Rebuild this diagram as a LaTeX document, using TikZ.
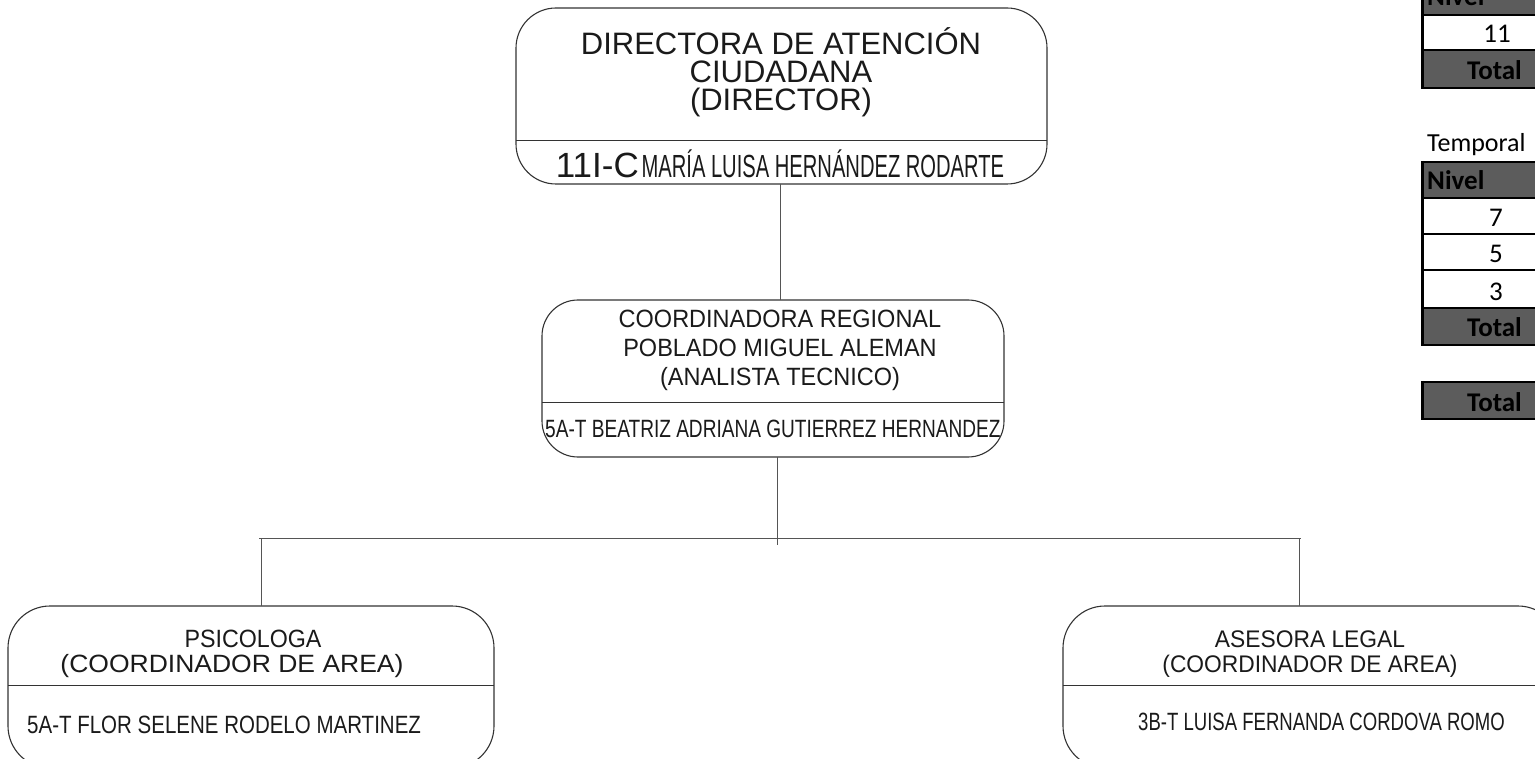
\documentclass[tikz,border=0pt]{standalone}
\usepackage{fontspec}
\usepackage{graphicx}
\setmainfont{Liberation Sans}
\newfontfamily\tabfont{Carlito}
\definecolor{hdrgray}{HTML}{5C5C5C}
\definecolor{inkc}{HTML}{1A1A1A}
\definecolor{linec}{HTML}{333333}
\definecolor{connc}{HTML}{555555}
\tikzset{
  orgbox/.style={draw=linec, line width=1.1pt, inner sep=0pt, outer sep=0pt},
  divl/.style={draw=linec, line width=1pt},
  conn/.style={draw=connc, line width=1pt},
  lbl/.style={inner sep=0pt, anchor=base, text=inkc},
  lblw/.style={inner sep=0pt, anchor=base west, text=inkc},
  tnum/.style={inner sep=0pt, anchor=base, text=black, font=\tabfont\fontsize{27}{27}\selectfont},
  tleft/.style={inner sep=0pt, anchor=base west, text=black, font=\tabfont\bfseries\fontsize{27}{27}\selectfont},
  tright/.style={inner sep=0pt, anchor=base east, text=black, font=\tabfont\bfseries\fontsize{27}{27}\selectfont},
  hrule/.style={draw=black, line width=2.5pt},
  vrule/.style={draw=black, line width=3pt},
}
\begin{document}
\begin{tikzpicture}[x=1pt,y=-1pt]
\useasboundingbox (0,0) rectangle (1535,759);
\clip (0,0) rectangle (1535,759);

% ---- boxes ----
\node[orgbox, rounded corners=40pt, minimum width=531pt, minimum height=176pt] (dir) at (781.5,96) {};
\node[orgbox, rounded corners=36pt, minimum width=462pt, minimum height=157pt] (mid) at (773,378.5) {};
\node[orgbox, rounded corners=42pt, minimum width=486pt, minimum height=162pt] (psi) at (251,687) {};
\node[orgbox, rounded corners=42pt, minimum width=497pt, minimum height=162pt] (ase) at (1311.5,687) {};

% dividers
\draw[divl] (dir.west |- 0,141) -- (dir.east |- 0,141);
\draw[divl] (mid.west |- 0,403) -- (mid.east |- 0,403);
\draw[divl] (psi.west |- 0,685) -- (psi.east |- 0,685);
\draw[divl] (ase.west |- 0,685) -- (ase.east |- 0,685);

% ---- texts ----
\node[lbl, font=\fontsize{31}{31}\selectfont] (dirt1) at (781,55) {DIRECTORA DE ATENCIÓN};
\node[lbl, font=\fontsize{31}{31}\selectfont] (dirt2) at (781,83) {CIUDADANA};
\node[lbl, font=\fontsize{31}{31}\selectfont] (dirt3) at (781,111) {(DIRECTOR)};
\node[lbl] (dirn) at (780,178) {{\fontsize{35}{35}\selectfont 11I-C} \scalebox{0.63}[1]{\fontsize{32}{32}\selectfont MARÍA LUISA HERNÁNDEZ RODARTE}};

\node[lbl] (midt1) at (780,328) {\scalebox{0.94}[1]{\fontsize{25}{25}\selectfont COORDINADORA REGIONAL}};
\node[lbl] (midt2) at (780,357) {\scalebox{0.94}[1]{\fontsize{25}{25}\selectfont POBLADO MIGUEL ALEMAN}};
\node[lbl] (midt3) at (780,385) {\scalebox{0.94}[1]{\fontsize{25}{25}\selectfont (ANALISTA TECNICO)}};
\node[lblw] (midn) at (545,437) {\scalebox{0.763}[1]{\fontsize{25}{25}\selectfont 5A-T BEATRIZ ADRIANA GUTIERREZ HERNANDEZ}};

\node[lbl] (psit1) at (253,647) {\scalebox{0.93}[1]{\fontsize{25}{25}\selectfont PSICOLOGA}};
\node[lbl] (psit2) at (232,672) {\scalebox{1.06}[1]{\fontsize{25}{25}\selectfont (COORDINADOR DE AREA)}};
\node[lblw] (psin) at (27,733) {\scalebox{0.82}[1]{\fontsize{25}{25}\selectfont 5A-T FLOR SELENE RODELO MARTINEZ}};

\node[lbl] (aset1) at (1310,647) {\scalebox{0.95}[1]{\fontsize{24}{24}\selectfont ASESORA LEGAL}};
\node[lbl] (aset2) at (1310,672) {\scalebox{0.95}[1]{\fontsize{24}{24}\selectfont (COORDINADOR DE AREA)}};
\node[lblw] (asen) at (1138,730) {\scalebox{0.742}[1]{\fontsize{25}{25}\selectfont 3B-T LUISA FERNANDA CORDOVA ROMO}};

% ---- connectors ----
\draw[conn] (dir.south -| 780,0) -- (mid.north -| 780,0);
\coordinate (stub) at (777,545);
\coordinate (barL) at (259,538);
\coordinate (barR) at (1301,538);
\coordinate (dropL) at (261,538);
\coordinate (dropR) at (1299,538);
\draw[conn] (stub |- mid.south) -- (stub);
\draw[conn] (barL) -- (barR);
\draw[conn] (dropL) -- (dropL |- psi.north);
\draw[conn] (dropR) -- (dropR |- ase.north);

% ---- side tables ----
% table 1
\fill[hdrgray] (1422,-20) rectangle (1560,15);
\fill[hdrgray] (1422,50) rectangle (1560,88);
\draw[hrule] (1422,15) -- (1560,15);
\draw[hrule] (1422,50) -- (1560,50);
\draw[hrule] (1422,88) -- (1560,88);
\draw[vrule] (1422,-20) -- (1422,89);
\node[tleft] (t1h) at (1427,6) {Nivel};
\node[tnum] (t1a) at (1497,43) {11};
\node[tright] (t1t) at (1522,80) {Total};

% table 2
\node[inner sep=0pt, anchor=base west, text=black, font=\tabfont\fontsize{26}{26}\selectfont] (temp) at (1427,152) {Temporal};
\fill[hdrgray] (1422,162) rectangle (1560,198);
\fill[hdrgray] (1422,308) rectangle (1560,345);
\foreach \yy in {162,198,234,270,308,345} { \draw[hrule] (1422,\yy) -- (1560,\yy); }
\draw[vrule] (1422,161) -- (1422,346);
\node[tleft] (t2h) at (1427,190) {Nivel};
\node[tnum] (t2a) at (1496,227) {7};
\node[tnum] (t2b) at (1496,263) {5};
\node[tnum] (t2c) at (1496,301) {3};
\node[tright] (t2t) at (1522,337) {Total};

% table 3
\fill[hdrgray] (1422,382) rectangle (1560,419);
\draw[hrule] (1422,382) -- (1560,382);
\draw[hrule] (1422,419) -- (1560,419);
\draw[vrule] (1422,381) -- (1422,420);
\node[tright] (t3t) at (1522,411) {Total};
\end{tikzpicture}
\end{document}
